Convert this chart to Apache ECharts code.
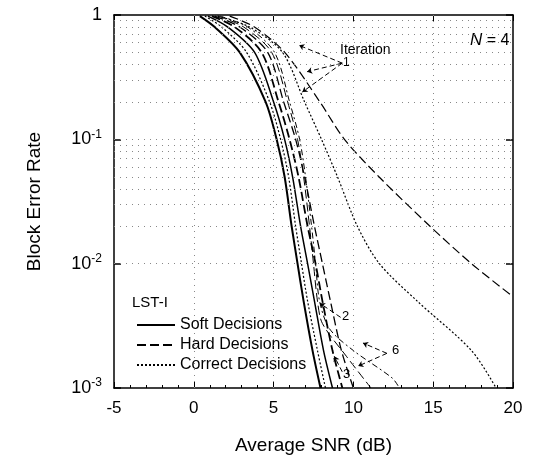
<!DOCTYPE html>
<html>
<head>
<meta charset="utf-8">
<script src="https://cdn.jsdelivr.net/npm/echarts@6/dist/echarts.min.js"></script>
<style>
html,body{margin:0;padding:0;background:#fff;}
#main{width:535px;height:463px;}
</style>
</head>
<body>
<div id="main"></div>
<script>
// block error rate levels the curves were read at
var yLevels = [0.98, 0.8, 0.5, 0.2, 0.1, 0.05, 0.02, 0.01, 0.005, 0.002, 0.001];

// main cluster (later iterations)
var softIter6X = [0.38, 1.31, 2.88, 4.5, 5.19, 5.69, 6.13, 6.5, 6.88, 7.44, 7.94];
var correctX   = [0.69, 1.75, 3.31, 4.75, 5.44, 5.94, 6.38, 6.75, 7.13, 7.75, 8.25];
var softIter3X = [0.88, 2.13, 3.81, 5.0, 5.69, 6.19, 6.69, 7.13, 7.56, 8.13, 8.69];
var hardIter6X = [1.13, 2.56, 4.25, 5.31, 6.0, 6.56, 7.13, 7.63, 8.06, 8.69, 9.31];
var hardIter3X = [1.31, 2.88, 4.63, 5.63, 6.38, 6.94, 7.56, 8.06, 8.56, 9.25, 10.0];

// iteration 2
var softIter2X = [1.5, 3.13, 4.88, 5.88, 6.5, 6.88, 7.25, 7.5, 7.75, 8.06, 9.56, 11.1];
var softIter2Y = [0.98, 0.8, 0.5, 0.2, 0.1, 0.05, 0.02, 0.01, 0.005, 0.0033, 0.0018, 0.001];
var hardIter2X = [1.63, 3.38, 5.06, 6.0, 6.63, 7.0, 7.38, 7.63, 7.88, 8.5, 10.0, 12.44, 12.88];
var hardIter2Y = [0.98, 0.8, 0.5, 0.2, 0.1, 0.05, 0.02, 0.01, 0.005, 0.003, 0.002, 0.0012, 0.001];

// iteration 1
var softIter1X = [1.5, 3.5, 5.56, 6.94, 8.0, 9.0, 10.25, 11.63, 14.0, 17.4, 18.94];
var hardIter1X = [2.25, 3.8, 5.7, 7.9, 9.44, 11.6, 14.8, 17.4, 19.94];
var hardIter1Y = [0.98, 0.8, 0.5, 0.2, 0.1, 0.05, 0.02, 0.01, 0.0055];

// axis ticks
var xTicks = [-5, 0, 5, 10, 15, 20];
var minorGridY = [0.002,0.003,0.004,0.005,0.006,0.007,0.008,0.009,0.01,
                  0.02,0.03,0.04,0.05,0.06,0.07,0.08,0.09,0.1,
                  0.2,0.3,0.4,0.5,0.6,0.7,0.8,0.9];
var gridX = [0, 5, 10, 15];

// annotation arrows [from, to] in data coords
var iterArrows = [
  [[9.3, 0.41], [6.6, 0.57]],
  [[9.3, 0.41], [7.1, 0.35]],
  [[9.3, 0.41], [6.8, 0.24]]
];
var iter2Arrow = [[[9.2, 0.0037], [7.9, 0.0048]]];
var iter6Arrows = [
  [[12.1, 0.0019], [10.3, 0.0015]],
  [[12.1, 0.0019], [10.6, 0.0023]]
];
var iter3Arrow = [[[9.3, 0.00135], [8.8, 0.0018]]];

function pairs(xs, ys){
  var out = [];
  for(var i=0;i<xs.length;i++){ out.push([xs[i], ys[i]]); }
  return out;
}

var SOLID = 'solid', DASH = [9,4], DOT = [2,2], DASHDOT = [6,3,2,3];

function curve(name, data, type, width){
  return {
    name: name,
    type: 'line',
    data: data,
    symbol: 'none',
    smooth: 0.3,
    silent: true,
    lineStyle: {color:'#000', width: width, type: type},
    itemStyle: {color:'#000'}
  };
}

function arrows(list){
  return list.map(function(a){ return [{coord:a[0]},{coord:a[1]}]; });
}

var myChart = echarts.init(document.getElementById('main'));

var series = [
  curve('Soft Decisions', pairs(softIter6X, yLevels), SOLID, 2),
  curve('Correct Decisions', pairs(correctX, yLevels), DOT, 1.2),
  curve('soft3', pairs(softIter3X, yLevels), SOLID, 1.5),
  curve('Hard Decisions', pairs(hardIter6X, yLevels), DASH, 1.8),
  curve('hard3', pairs(hardIter3X, yLevels), DASH, 1.3),
  curve('soft2', pairs(softIter2X, softIter2Y), DASH, 1),
  curve('hard2', pairs(hardIter2X, hardIter2Y), DASHDOT, 1),
  curve('soft1', pairs(softIter1X, yLevels), DOT, 1.2),
  curve('hard1', pairs(hardIter1X, hardIter1Y), DASH, 1.2)
];

// grid lines + arrows hung on empty helper series
series.push({
  name: 'guides',
  type: 'line',
  data: [],
  silent: true,
  markLine: {
    silent: true,
    symbol: ['none','none'],
    label: {show:false},
    lineStyle: {color:'#888', width:1, type:[1,5]},
    data: minorGridY.map(function(v){ return {yAxis:v}; })
          .concat(gridX.map(function(v){ return {xAxis:v}; }))
  }
});
series.push({
  name: 'arrows',
  type: 'line',
  data: [],
  silent: true,
  markLine: {
    silent: true,
    symbol: ['none','arrow'],
    symbolSize: 5,
    label: {show:false},
    lineStyle: {color:'#000', width:1, type:[5,3]},
    data: arrows(iterArrows).concat(arrows(iter2Arrow), arrows(iter6Arrows), arrows(iter3Arrow))
  }
});

var FONT = 'Liberation Sans, Arial, sans-serif';

var option = {
  animation: false,
  backgroundColor: '#fff',
  textStyle: {fontFamily: FONT},
  grid: {left:114, right:22, top:15, bottom:75, show:false},
  legend: {
    data: ['Soft Decisions','Hard Decisions','Correct Decisions'],
    orient: 'vertical',
    left: 131,
    top: 312,
    itemGap: 4,
    itemWidth: 38,
    itemHeight: 15,
    selectedMode: false,
    itemStyle: {opacity: 0},
    textStyle: {fontSize: 16, color:'#000', fontFamily: FONT}
  },
  xAxis: [{
    type: 'value',
    min: -5, max: 20, interval: 5,
    name: 'Average SNR (dB)',
    nameLocation: 'middle',
    nameGap: 48,
    nameTextStyle: {fontSize: 19, color:'#000'},
    axisLine: {onZero:false, lineStyle:{color:'#000', width:1.5}},
    axisTick: {inside:true, length:6, lineStyle:{color:'#000'}},
    minorTick: {show:true, splitNumber:5, length:3, lineStyle:{color:'#000'}},
    axisLabel: {fontSize: 17, color:'#000', margin: 12,
      formatter: function(v){ return xTicks.indexOf(v) >= 0 ? String(v) : ''; }},
    splitLine: {show:false}
  },{
    type: 'value', position:'top',
    min: -5, max: 20, interval: 5,
    axisLine: {onZero:false, lineStyle:{color:'#000', width:1.5}},
    axisTick: {inside:true, length:6, lineStyle:{color:'#000'}},
    axisLabel: {show:false},
    splitLine: {show:false}
  }],
  yAxis: [{
    type: 'log',
    logBase: 10,
    min: 0.001, max: 1,
    name: 'Block Error Rate',
    nameLocation: 'middle',
    nameGap: 70,
    nameTextStyle: {fontSize: 19, color:'#000'},
    axisLine: {onZero:false, lineStyle:{color:'#000', width:1.5}},
    axisTick: {inside:true, length:7, lineStyle:{color:'#000', width:1.5}},
    axisLabel: {
      fontSize: 18, color:'#000', margin: 12,
      formatter: function(v){
        var e = Math.round(Math.log(v)/Math.LN10);
        if(e === 0) return '1';
        return '10{s|' + e + '}';
      },
      rich: {s: {fontSize: 12, verticalAlign:'top', padding:[0,0,10,0], color:'#000'}}
    },
    splitLine: {show:false}
  },{
    type: 'log',
    logBase: 10,
    min: 0.001, max: 1,
    position: 'right',
    axisLine: {onZero:false, lineStyle:{color:'#000', width:1.5}},
    axisTick: {inside:true, length:7, lineStyle:{color:'#000', width:1.5}},
    axisLabel: {show:false},
    splitLine: {show:false}
  }],
  graphic: [
    {type:'text', left:132, top:295, style:{text:'LST-I', fontSize:15, fill:'#000', fontFamily: FONT}},
    {type:'text', left:470, top:32, style:{text:'{i|N} = 4', fontSize:16, fill:'#000', fontFamily: FONT,
      rich:{i:{fontStyle:'italic', fontSize:17, fontFamily: FONT}}}},
    {type:'text', left:340, top:43, style:{text:'Iteration', fontSize:14, fill:'#000', fontFamily: FONT}},
    {type:'text', left:343, top:57, style:{text:'1', fontSize:12, fill:'#000', fontFamily: FONT}},
    {type:'text', left:342, top:310, style:{text:'2', fontSize:13, fill:'#000', fontFamily: FONT}},
    {type:'text', left:392, top:344, style:{text:'6', fontSize:13, fill:'#000', fontFamily: FONT}},
    {type:'text', left:343, top:368, style:{text:'3', fontSize:13, fill:'#000', fontFamily: FONT}}
  ],
  series: series
};

myChart.setOption(option);
</script>
</body>
</html>
